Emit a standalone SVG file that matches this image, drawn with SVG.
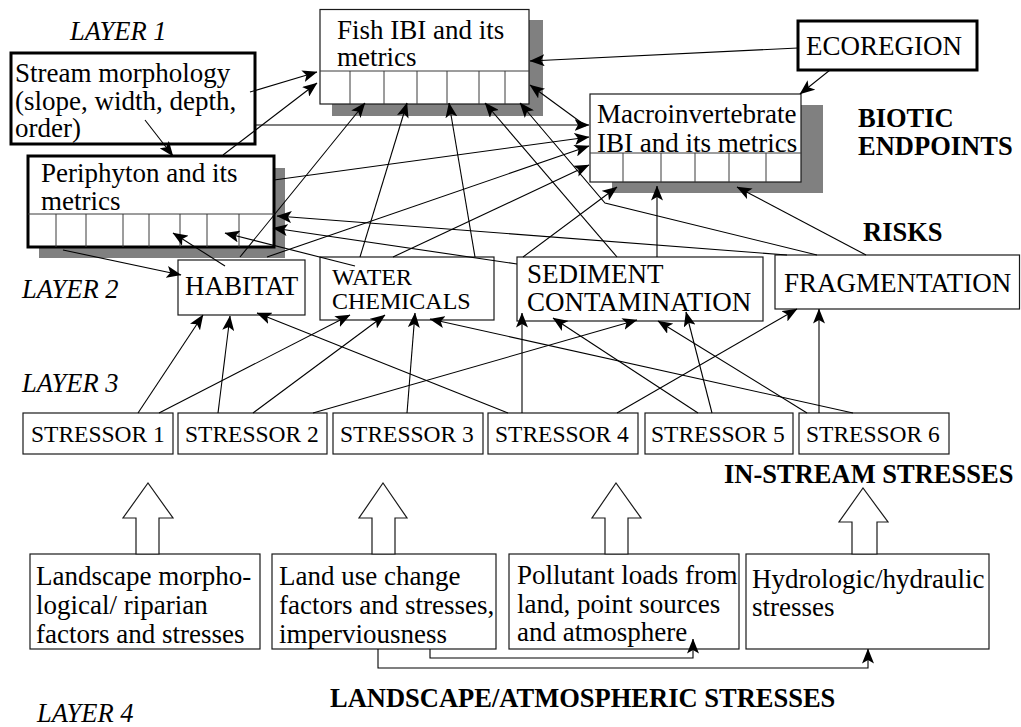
<svg xmlns="http://www.w3.org/2000/svg" width="1021" height="727" viewBox="0 0 1021 727">
  <style>
    .bg { fill: #ffffff; }
    .box { fill: #ffffff; stroke: #1a1a1a; stroke-width: 1.2; }
    .thick { fill: #ffffff; stroke: #000000; stroke-width: 3; }
    .shadow { fill: #808080; }
    .cell { stroke: #3a3a3a; stroke-width: 1; fill: none; }
    .t { font-family: "Liberation Serif", "Times New Roman", serif; font-size: 27px; fill: #000; }
    .s { font-family: "Liberation Serif", "Times New Roman", serif; font-size: 23.5px; fill: #000; }
    .w { font-family: "Liberation Serif", "Times New Roman", serif; font-size: 24px; fill: #000; }
    .lay { font-family: "Liberation Serif", "Times New Roman", serif; font-size: 26.5px; font-style: italic; fill: #000; }
    .hd { font-family: "Liberation Serif", "Times New Roman", serif; font-size: 26.5px; font-weight: bold; fill: #000; }
    .ln { fill: none; stroke: #000; stroke-width: 1.1; marker-end: url(#ah); }
    .hollow { fill: #ffffff; stroke: #1a1a1a; stroke-width: 1.2; }
  </style>
  <defs>
    <marker id="ah" viewBox="0 0 15 12" refX="14.5" refY="6" markerWidth="15" markerHeight="12" markerUnits="userSpaceOnUse" orient="auto">
      <path d="M0,0 L15,6 L0,12 L3.5,6 z" fill="#000"/>
    </marker>
  </defs>

  <rect class="bg" x="0" y="0" width="1021" height="727"/>

  <!-- layer and section headings -->
  <g id="labels">
    <text class="lay" x="70" y="40">LAYER 1</text>
    <text class="lay" x="22" y="298">LAYER 2</text>
    <text class="lay" x="22" y="392">LAYER 3</text>
    <text class="lay" x="37" y="722">LAYER 4</text>
    <text class="hd" x="858" y="127">BIOTIC</text>
    <text class="hd" x="858" y="155">ENDPOINTS</text>
    <text class="hd" x="863" y="241">RISKS</text>
    <text class="hd" x="724" y="483">IN-STREAM STRESSES</text>
    <text class="hd" x="330" y="707">LANDSCAPE/ATMOSPHERIC STRESSES</text>
  </g>

  <!-- layer 1: biotic endpoints -->
  <g id="fish-ibi">
    <rect class="shadow" x="332" y="20" width="211" height="96"/>
    <rect class="box" x="320" y="9.5" width="209" height="94.5"/>
    <line class="cell" x1="320" y1="71" x2="529" y2="71"/>
    <path class="cell" d="M350,71V104 M384,71V104 M417,71V104 M447,71V104 M479,71V104 M505,71V104"/>
    <text class="t" x="337" y="39">Fish IBI and its</text>
    <text class="t" x="337" y="66">metrics</text>
  </g>

  <g id="stream-morphology">
    <rect class="thick" x="11" y="53" width="244" height="91"/>
    <text class="t" x="15" y="82">Stream morphology</text>
    <text class="t" x="15" y="110">(slope, width, depth,</text>
    <text class="t" x="15" y="137">order)</text>
  </g>

  <g id="periphyton">
    <rect class="shadow" x="39" y="168" width="246" height="90"/>
    <rect class="thick" x="28" y="156" width="246" height="91"/>
    <line class="cell" x1="28" y1="214" x2="274" y2="214"/>
    <path class="cell" d="M56,214V247 M86,214V247 M123,214V247 M149,214V247 M180,214V247 M207,214V247 M239,214V247"/>
    <text class="t" x="41" y="182">Periphyton and its</text>
    <text class="t" x="41" y="210">metrics</text>
  </g>

  <g id="ecoregion">
    <rect class="thick" x="798" y="21" width="179" height="49"/>
    <text class="t" x="806" y="55">ECOREGION</text>
  </g>

  <g id="macroinvertebrate-ibi">
    <rect class="shadow" x="612" y="105" width="211" height="88"/>
    <rect class="box" x="590" y="94" width="211" height="88"/>
    <line class="cell" x1="590" y1="153" x2="801" y2="153"/>
    <path class="cell" d="M623,153V182 M661,153V182 M695,153V182 M729,153V182 M766,153V182"/>
    <text class="t" x="597" y="123">Macroinvertebrate</text>
    <text class="t" x="597" y="152">IBI and its metrics</text>
  </g>

  <!-- layer 2: risks -->
  <g id="habitat">
    <rect class="box" x="178" y="260" width="127" height="55"/>
    <text class="t" x="185" y="295">HABITAT</text>
  </g>
  <g id="water-chemicals">
    <rect class="box" x="320" y="257" width="174" height="63"/>
    <text class="w" x="332" y="285">WATER</text>
    <text class="w" x="332" y="309">CHEMICALS</text>
  </g>
  <g id="sediment-contamination">
    <rect class="box" x="517" y="257" width="246" height="64"/>
    <text class="t" x="527" y="283">SEDIMENT</text>
    <text class="t" x="527" y="311">CONTAMINATION</text>
  </g>
  <g id="fragmentation">
    <rect class="box" x="775" y="255" width="244.5" height="54"/>
    <text class="t" x="784" y="292">FRAGMENTATION</text>
  </g>

  <!-- layer 3: in-stream stressors -->
  <g id="stressor-1"><rect class="box" x="23" y="413" width="150" height="41"/><text class="s" x="31" y="442">STRESSOR 1</text></g>
  <g id="stressor-2"><rect class="box" x="178" y="413" width="149" height="41"/><text class="s" x="185" y="442">STRESSOR 2</text></g>
  <g id="stressor-3"><rect class="box" x="333" y="413" width="150" height="41"/><text class="s" x="340" y="442">STRESSOR 3</text></g>
  <g id="stressor-4"><rect class="box" x="488" y="413" width="150" height="41"/><text class="s" x="495" y="442">STRESSOR 4</text></g>
  <g id="stressor-5"><rect class="box" x="645" y="413" width="148" height="41"/><text class="s" x="651" y="442">STRESSOR 5</text></g>
  <g id="stressor-6"><rect class="box" x="799" y="413" width="150" height="41"/><text class="s" x="806" y="442">STRESSOR 6</text></g>

  <!-- layer 4: landscape / atmospheric sources -->
  <g id="landscape-morphology">
    <rect class="box" x="30" y="554" width="230" height="95"/>
    <polygon class="hollow" points="136,554 136,518 123,518 148,483 173,518 159,518 159,554"/>
    <text class="t" x="36" y="585">Landscape morpho-</text>
    <text class="t" x="36" y="614">logical/ riparian</text>
    <text class="t" x="36" y="643">factors and stresses</text>
  </g>
  <g id="land-use">
    <rect class="box" x="272" y="554" width="224" height="95"/>
    <polygon class="hollow" points="372,554 372,518 359,518 383,483 407,518 395,518 395,554"/>
    <text class="t" x="279" y="585">Land use change</text>
    <text class="t" x="279" y="614">factors and stresses,</text>
    <text class="t" x="279" y="643">imperviousness</text>
  </g>
  <g id="pollutant-loads">
    <rect class="box" x="509" y="554" width="230" height="95"/>
    <polygon class="hollow" points="605,554 605,518 592,518 616,483 641,518 628,518 628,554"/>
    <text class="t" x="517" y="584">Pollutant loads from</text>
    <text class="t" x="517" y="613">land, point sources</text>
    <text class="t" x="517" y="641">and atmosphere</text>
  </g>
  <g id="hydrologic">
    <rect class="box" x="746" y="554" width="243" height="95"/>
    <polygon class="hollow" points="852,554 852,522 839,522 863,488 888,522 877,522 877,554"/>
    <text class="t" x="752" y="588">Hydrologic/hydraulic</text>
    <text class="t" x="752" y="616">stresses</text>
  </g>

  <!-- connectors -->
  <g id="connectors">
    <!-- into layer 1 -->
    <line class="ln" x1="798" y1="48" x2="530" y2="61"/>
    <line class="ln" x1="830" y1="70" x2="800" y2="94"/>
    <line class="ln" x1="250" y1="92" x2="317" y2="72"/>
    <line class="ln" x1="223" y1="155" x2="317" y2="83"/>
    <line class="ln" x1="145" y1="120" x2="173" y2="156"/>
    <line class="ln" x1="255" y1="125" x2="589" y2="125"/>
    <line class="ln" x1="586" y1="126" x2="530" y2="85"/>
    <line class="ln" x1="274" y1="180" x2="589" y2="137"/>
    <line class="ln" x1="267" y1="257" x2="589" y2="146"/>
    <line class="ln" x1="393" y1="257" x2="589" y2="165"/>
    <line class="ln" x1="787" y1="255" x2="277" y2="216"/>
    <line class="ln" x1="517" y1="264" x2="273" y2="228"/>
    <line class="ln" x1="355" y1="266" x2="225" y2="233"/>
    <line class="ln" x1="225" y1="266" x2="173" y2="233"/>
    <line class="ln" x1="63" y1="250" x2="181" y2="275"/>
    <line class="ln" x1="240" y1="257" x2="365" y2="103"/>
    <line class="ln" x1="360" y1="257" x2="407" y2="103"/>
    <line class="ln" x1="475" y1="257" x2="449" y2="103"/>
    <line class="ln" x1="617" y1="257" x2="485" y2="103"/>
    <polyline class="ln" points="817,255 605,203 520,103"/>
    <line class="ln" x1="523" y1="257" x2="617" y2="187"/>
    <line class="ln" x1="657" y1="257" x2="657" y2="186"/>
    <line class="ln" x1="866" y1="255" x2="737" y2="187"/>
    <!-- into layer 2 -->
    <line class="ln" x1="138" y1="413" x2="203" y2="315"/>
    <line class="ln" x1="159" y1="413" x2="350" y2="315"/>
    <line class="ln" x1="218" y1="413" x2="230" y2="316"/>
    <line class="ln" x1="253" y1="413" x2="385" y2="315"/>
    <line class="ln" x1="508" y1="413" x2="257" y2="313"/>
    <line class="ln" x1="313" y1="413" x2="637" y2="320"/>
    <line class="ln" x1="407" y1="413" x2="415" y2="313"/>
    <line class="ln" x1="853" y1="413" x2="430" y2="319"/>
    <line class="ln" x1="522" y1="413" x2="522" y2="313"/>
    <line class="ln" x1="698" y1="413" x2="553" y2="318"/>
    <line class="ln" x1="807" y1="413" x2="658" y2="321"/>
    <line class="ln" x1="712" y1="413" x2="686" y2="312"/>
    <line class="ln" x1="617" y1="413" x2="797" y2="309"/>
    <line class="ln" x1="819" y1="413" x2="819" y2="309"/>
    <!-- within layer 4 -->
    <polyline class="ln" points="378,649 378,668 868,668 868,649"/>
    <polyline class="ln" points="430,649 430,658 693,658 693,639"/>
  </g>
</svg>
